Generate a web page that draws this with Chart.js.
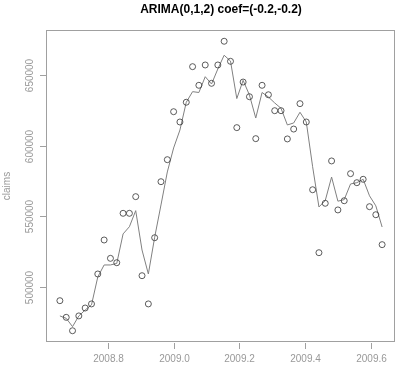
<!DOCTYPE html>
<html>
<head>
<meta charset="utf-8">
<script src="https://cdn.jsdelivr.net/npm/chart.js@4.4.0/dist/chart.umd.min.js"></script>
<style>
  html, body { margin: 0; padding: 0; background: #fff; }
</style>
</head>
<body>
<canvas id="chart" width="400" height="370"></canvas>
<script>
// weekly time points (frequency 52)
const weeks = [
  2008.6538, 2008.6731, 2008.6923, 2008.7115, 2008.7308, 2008.7500, 2008.7692, 2008.7885,
  2008.8077, 2008.8269, 2008.8462, 2008.8654, 2008.8846, 2008.9038, 2008.9231, 2008.9423,
  2008.9615, 2008.9808, 2009.0000, 2009.0192, 2009.0385, 2009.0577, 2009.0769, 2009.0962,
  2009.1154, 2009.1346, 2009.1538, 2009.1731, 2009.1923, 2009.2115, 2009.2308, 2009.2500,
  2009.2692, 2009.2885, 2009.3077, 2009.3269, 2009.3462, 2009.3654, 2009.3846, 2009.4038,
  2009.4231, 2009.4423, 2009.4615, 2009.4808, 2009.5000, 2009.5192, 2009.5385, 2009.5577,
  2009.5769, 2009.5962, 2009.6154, 2009.6346
];
// observed claims (circles)
const claims = [
  490100, 478300, 468800, 479300, 484900, 487800, 509000, 533100,
  520100, 517000, 552000, 552000, 563800, 507800, 487800, 534700,
  574400, 590000, 624000, 616700, 630700, 655900, 642700, 657100,
  644100, 657100, 673900, 659700, 612700, 645000, 634600, 604900,
  642700, 636000, 624700, 624700, 604700, 611700, 629700, 616700,
  568700, 524100, 559100, 589100, 554400, 560900, 580100, 573700,
  576100, 556700, 551000, 529800
];
// fitted values (line)
const fitted = [
  479300, 477600, 471700, 479300, 483500, 487100, 506900, 515400,
  515400, 516500, 537400, 542500, 553900, 526000, 509000, 535000,
  557900, 581300, 598300, 611000, 630700, 638200, 637600, 648800,
  643600, 654300, 664000, 659900, 633300, 646200, 635800, 619500,
  637600, 634400, 630200, 626400, 614600, 616000, 623600, 616700,
  585000, 556500, 561000, 577700, 560600, 561700, 572800, 573700,
  576100, 564400, 557300, 542300
];
const xTicks = [2008.8, 2009.0, 2009.2, 2009.4, 2009.6];
const yTicks = [500000, 550000, 600000, 650000];
const titleText = 'ARIMA(0,1,2) coef=(-0.2,-0.2)';
const yTitle = 'claims';

const FONT = '"Liberation Sans", Arial, Helvetica, sans-serif';
const AXIS_COL = '#a0a0a0';

const rAxes = {
  id: 'rAxes',
  afterDraw(chart) {
    const { ctx, chartArea: a, scales } = chart;
    const xs = scales.x, ys = scales.y;
    ctx.save();
    // box
    ctx.strokeStyle = AXIS_COL;
    ctx.lineWidth = 1;
    ctx.strokeRect(a.left - 0.5, a.top + 0.5, a.right - a.left, a.bottom - a.top - 1);

    // x ticks + labels
    ctx.fillStyle = '#999';
    ctx.font = '10px ' + FONT;
    ctx.textAlign = 'center';
    ctx.textBaseline = 'middle';
    ctx.beginPath();
    xTicks.forEach(v => {
      const px = Math.round(xs.getPixelForValue(v)) + 0.5;
      ctx.moveTo(px, a.bottom + 1);
      ctx.lineTo(px, a.bottom + 7);
      ctx.fillText(v.toFixed(1), px, a.bottom + 17);
    });
    // y ticks + labels
    yTicks.forEach(v => {
      const py = Math.round(ys.getPixelForValue(v)) + 0.5;
      ctx.moveTo(a.left - 7, py);
      ctx.lineTo(a.left - 1, py);
      ctx.save();
      ctx.translate(a.left - 17, py);
      ctx.rotate(-Math.PI / 2);
      ctx.fillText(String(v), 0, 0);
      ctx.restore();
    });
    ctx.stroke();

    // y axis title
    ctx.save();
    ctx.translate(7, (a.top + a.bottom) / 2);
    ctx.rotate(-Math.PI / 2);
    ctx.fillText(yTitle, 0, 0);
    ctx.restore();

    // main title
    ctx.fillStyle = '#000';
    ctx.font = 'bold 12px ' + FONT;
    ctx.fillText(titleText, (a.left + a.right) / 2, 10);
    ctx.restore();
  }
};

new Chart(document.getElementById('chart'), {
  type: 'scatter',
  data: {
    datasets: [
      {
        label: 'claims',
        data: weeks.map((w, i) => ({ x: w, y: claims[i] })),
        pointStyle: 'circle',
        pointRadius: 3,
        pointBorderWidth: 0.8,
        borderColor: '#333',
        backgroundColor: 'rgba(0,0,0,0)',
        showLine: false
      },
      {
        type: 'line',
        label: 'fitted',
        data: weeks.map((w, i) => ({ x: w, y: fitted[i] })),
        borderColor: '#808080',
        borderWidth: 1,
        pointRadius: 0,
        tension: 0,
        fill: false
      }
    ]
  },
  options: {
    responsive: false,
    animation: false,
    devicePixelRatio: 1,
    layout: { padding: { left: 47, right: 5, top: 30, bottom: 28 } },
    plugins: { legend: { display: false }, tooltip: { enabled: false }, title: { display: false } },
    scales: {
      x: { type: 'linear', display: false, min: 2008.6146, max: 2009.6738 },
      y: { type: 'linear', display: false, min: 460820, max: 681880 }
    }
  },
  plugins: [rAxes]
});
</script>
</body>
</html>
